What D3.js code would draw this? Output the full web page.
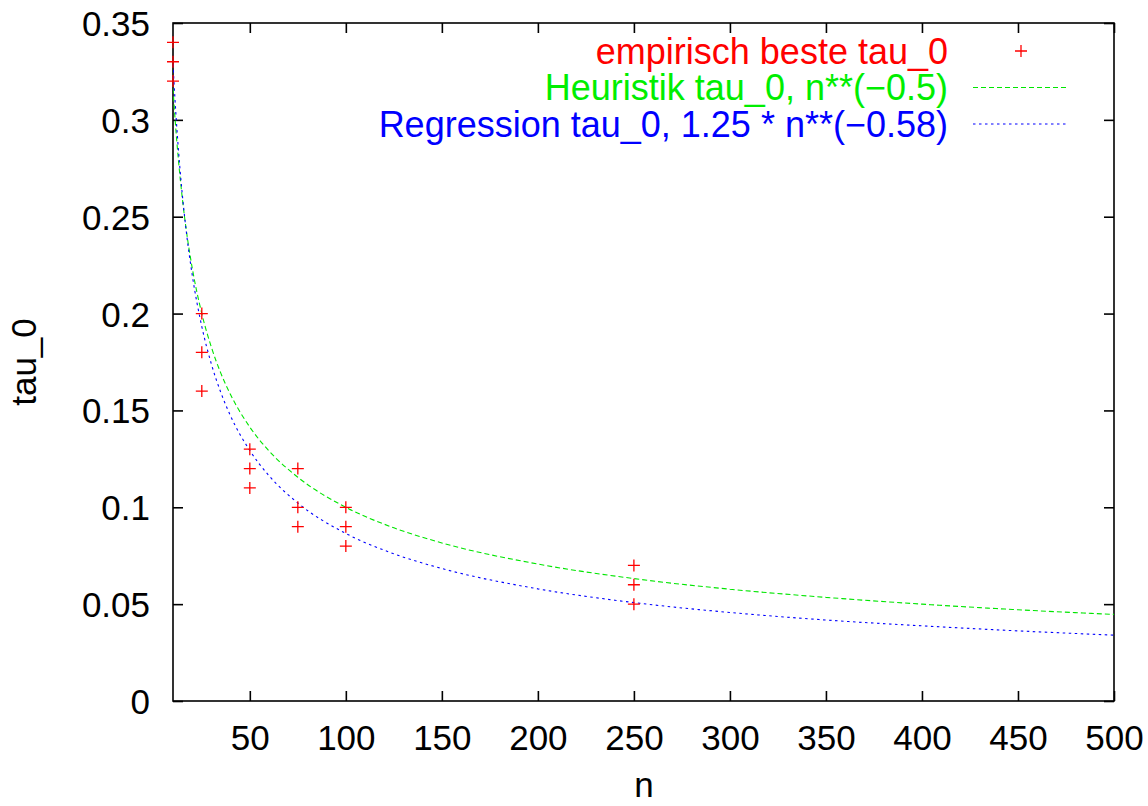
<!DOCTYPE html>
<html>
<head>
<meta charset="utf-8">
<script src="https://cdn.jsdelivr.net/npm/d3@7"></script>
<style>
  html, body { margin: 0; padding: 0; background: #fff; }
  svg { display: block; font-family: "Liberation Sans", Arial, Helvetica, sans-serif; }
</style>
</head>
<body>
<svg id="chart" width="1148" height="806"></svg>
<script>
// ---- data ----
const empN   = [10, 10, 10, 25, 25, 25, 50, 50, 50, 75, 75, 75, 100, 100, 100, 250, 250, 250];
const empTau = [0.34, 0.33, 0.32, 0.20, 0.18, 0.16, 0.13, 0.12, 0.11, 0.12, 0.10, 0.09, 0.10, 0.09, 0.08, 0.07, 0.06, 0.05];

const curveN    = [10, 11, 12, 13, 15, 17, 20, 25, 30, 35, 40, 50, 60, 75, 100, 125, 150, 200, 250, 300, 350, 400, 450, 500];
const heurTau   = [0.3162, 0.3015, 0.2887, 0.2774, 0.2582, 0.2425, 0.2236, 0.2000, 0.1826, 0.1690, 0.1581, 0.1414, 0.1291, 0.1155, 0.1000, 0.0894, 0.0816, 0.0707, 0.0632, 0.0577, 0.0535, 0.0500, 0.0471, 0.0447];
const regrTau   = [0.3288, 0.3111, 0.2958, 0.2824, 0.2599, 0.2417, 0.2200, 0.1933, 0.1739, 0.1590, 0.1471, 0.1293, 0.1163, 0.1022, 0.0865, 0.0760, 0.0684, 0.0579, 0.0508, 0.0457, 0.0418, 0.0388, 0.0362, 0.0340];

const xTicks = [50, 100, 150, 200, 250, 300, 350, 400, 450, 500];
const yTicks = [0, 0.05, 0.1, 0.15, 0.2, 0.25, 0.3, 0.35];
const legendLabels = ["empirisch beste tau_0", "Heuristik tau_0, n**(\u22120.5)", "Regression tau_0, 1.25 * n**(\u22120.58)"];
const seriesColors = ["#ff0000", "#00e600", "#0000ff"];

// ---- layout ----
const svg = d3.select("#chart");
const L = 173, R = 1114, T = 23, B = 701;
const x = d3.scaleLinear().domain([10, 500]).range([L, R]);
const y = d3.scaleLinear().domain([0, 0.35]).range([B, T]);
const fs = 35, lfs = 36;
const tickLen = 10;

// frame
svg.append("rect").attr("x", L).attr("y", T).attr("width", R - L).attr("height", B - T)
  .attr("fill", "none").attr("stroke", "#000").attr("stroke-width", 1.6);

// axes via d3 axis (inward ticks)
const xAxisB = d3.axisBottom(x).tickValues(xTicks).tickSize(-tickLen).tickFormat(d3.format("d"));
const xAxisT = d3.axisTop(x).tickValues(xTicks).tickSize(-tickLen).tickFormat("");
const yAxisL = d3.axisLeft(y).tickValues(yTicks).tickSize(-tickLen).tickFormat(d => d === 0 ? "0" : d3.format("~g")(+d.toFixed(2)));
const yAxisR = d3.axisRight(y).tickValues(yTicks).tickSize(-tickLen).tickFormat("");

function styleAxis(g) {
  g.select(".domain").remove();
  g.selectAll(".tick line").attr("stroke", "#000").attr("stroke-width", 1.6);
  g.selectAll(".tick text").attr("fill", "#000").style("font-size", fs + "px")
    .style("font-family", "\"Liberation Sans\", Arial, sans-serif");
}
svg.append("g").attr("transform", `translate(0,${B})`).call(xAxisB).call(styleAxis)
  .selectAll(".tick text").attr("dy", null).attr("y", 49);
svg.append("g").attr("transform", `translate(0,${T})`).call(xAxisT).call(styleAxis);
svg.append("g").attr("transform", `translate(${L},0)`).call(yAxisL).call(styleAxis)
  .selectAll(".tick text").attr("x", -23).attr("dy", null).attr("y", 12.5);
svg.append("g").attr("transform", `translate(${R},0)`).call(yAxisR).call(styleAxis);

// axis labels
svg.append("text").attr("x", 644).attr("y", 797).attr("text-anchor", "middle")
  .style("font-size", fs + "px").text("n");
svg.append("text").attr("transform", "translate(36,362) rotate(-90)").attr("text-anchor", "middle")
  .style("font-size", fs + "px").text("tau_0");

// curves
svg.append("clipPath").attr("id", "plotclip").append("rect")
  .attr("x", L).attr("y", T).attr("width", R - L).attr("height", B - T);
const lineGen = d3.line().x(d => x(d[0])).y(d => y(d[1])).curve(d3.curveMonotoneX);
const plot = svg.append("g").attr("clip-path", "url(#plotclip)");
plot.append("path").datum(curveN.map((n, i) => [n, heurTau[i]]))
  .attr("d", lineGen).attr("fill", "none").attr("stroke", seriesColors[1])
  .attr("stroke-width", 1.1).attr("stroke-dasharray", "5,3");
plot.append("path").datum(curveN.map((n, i) => [n, regrTau[i]]))
  .attr("d", lineGen).attr("fill", "none").attr("stroke", seriesColors[2])
  .attr("stroke-width", 1.1).attr("stroke-dasharray", "2.5,3.5");

// points (+)
const ps = 6;
const pts = svg.append("g");
empN.forEach((n, i) => {
  const cx = x(n), cy = y(empTau[i]);
  pts.append("path").attr("d", `M${cx - ps},${cy}H${cx + ps}M${cx},${cy - ps}V${cy + ps}`)
    .attr("stroke", seriesColors[0]).attr("stroke-width", 1.3).attr("fill", "none");
});

// legend
const legY = [51, 87.5, 124];
const lg = svg.append("g");
legendLabels.forEach((lab, i) => {
  lg.append("text").attr("x", 948).attr("y", legY[i] + 12.5).attr("text-anchor", "end")
    .attr("fill", i === 1 ? "#00ee00" : seriesColors[i])
    .style("font-size", lfs + "px").text(lab);
  if (i === 0) {
    const cx = 1021, cy = legY[i];
    lg.append("path").attr("d", `M${cx - ps},${cy}H${cx + ps}M${cx},${cy - ps}V${cy + ps}`)
      .attr("stroke", seriesColors[0]).attr("stroke-width", 1.3);
  } else {
    lg.append("line").attr("x1", 973).attr("x2", 1069).attr("y1", legY[i]).attr("y2", legY[i])
      .attr("stroke", seriesColors[i]).attr("stroke-width", 1.1)
      .attr("stroke-dasharray", i === 1 ? "5,3" : "2.5,3.5");
  }
});
</script>
</body>
</html>
